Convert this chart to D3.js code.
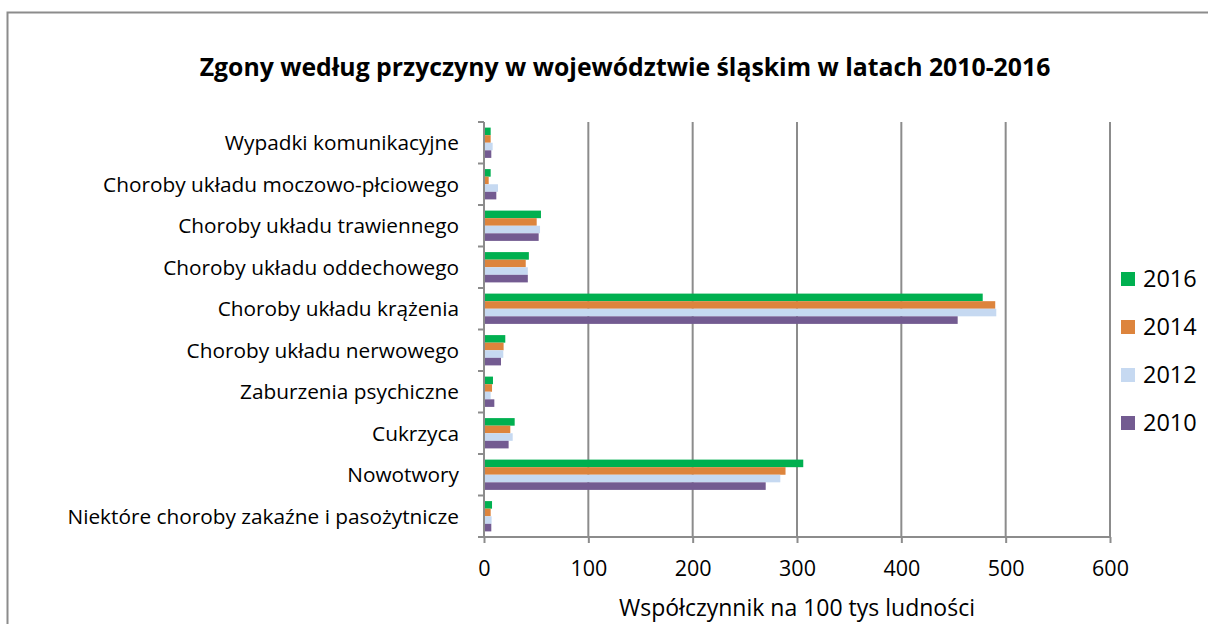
<!DOCTYPE html>
<html lang="pl">
<head>
<meta charset="utf-8">
<script src="https://cdn.jsdelivr.net/npm/d3@7"></script>
<style>
  html, body { margin: 0; padding: 0; background: #fff; }
  svg { display: block; font-family: "Open Sans", "Noto Sans", sans-serif; }
</style>
</head>
<body>
<svg id="chart" width="1208" height="624"></svg>
<script>
// Kategorie przyczyn zgonów (od dołu wykresu do góry)
const categories = [
  "Niektóre choroby zakaźne i pasożytnicze",
  "Nowotwory",
  "Cukrzyca",
  "Zaburzenia psychiczne",
  "Choroby układu nerwowego",
  "Choroby układu krążenia",
  "Choroby układu oddechowego",
  "Choroby układu trawiennego",
  "Choroby układu moczowo-płciowego",
  "Wypadki komunikacyjne"
];

// Współczynnik zgonów na 100 tys. ludności, w kolejności kategorii
const years = ["2016", "2014", "2012", "2010"];
const values2016 = [7.7, 306, 29.4, 8.6, 20.4, 478, 43, 54.6, 6.4, 6.4];
const values2014 = [6.4, 289, 25.2, 7.7, 18.8, 490, 40, 50.5, 4.5, 6.4];
const values2012 = [7.3, 284, 27.5, 6.4, 18.5, 491, 42, 53.7, 13.4, 8.3];
const values2010 = [7.0, 270, 23.6, 9.9, 16.3, 454, 42, 52.4, 11.8, 7.0];
const seriesValues = [values2016, values2014, values2012, values2010];
const colors = ["#00b050", "#dd843c", "#c6d9f1", "#735b91"];

const xTicks = [0, 100, 200, 300, 400, 500, 600];

const svg = d3.select("#chart");
const W = 1208, H = 624;
const plot = { left: 484, right: 1110, top: 122, bottom: 537 };

// Ramka obszaru wykresu
svg.append("path")
  .attr("d", `M7.5,${H + 2} V12.5 H${W + 2}`)
  .attr("fill", "none")
  .attr("stroke", "#8c8c8c")
  .attr("stroke-width", 2);

// Tytuł
svg.append("text")
  .attr("x", 625)
  .attr("y", 76)
  .attr("text-anchor", "middle")
  .attr("font-weight", "bold")
  .attr("font-size", 24.8)
  .attr("fill", "#000")
  .text("Zgony według przyczyny w województwie śląskim w latach 2010-2016");

const x = d3.scaleLinear().domain([0, 600]).range([plot.left, plot.right]);

// Kategorie rysowane od dołu: pierwsza kategoria na samym dole
const y = d3.scaleBand()
  .domain(categories.slice().reverse())
  .range([plot.top, plot.bottom])
  .paddingInner(0.27)
  .paddingOuter(0.135);

const ySub = d3.scaleBand()
  .domain(years)
  .range([0, y.bandwidth()]);

// Linie siatki pionowej
svg.append("g")
  .selectAll("line")
  .data(xTicks.slice(1))
  .join("line")
  .attr("x1", d => x(d)).attr("x2", d => x(d))
  .attr("y1", plot.top).attr("y2", plot.bottom)
  .attr("stroke", "#8c8c8c")
  .attr("stroke-width", 2);

// Słupki
const groups = svg.append("g")
  .selectAll("g")
  .data(categories.map((c, i) => ({ c, i })))
  .join("g")
  .attr("transform", d => `translate(0,${y(d.c)})`);

groups.selectAll("rect")
  .data(d => years.map((yr, s) => ({ yr, s, v: seriesValues[s][d.i] })))
  .join("rect")
  .attr("x", x(0))
  .attr("y", d => ySub(d.yr))
  .attr("width", d => x(d.v) - x(0))
  .attr("height", ySub.bandwidth())
  .attr("fill", d => colors[d.s]);

// Oś wartości (dolna)
const xAxis = svg.append("g")
  .attr("transform", `translate(0,${plot.bottom})`)
  .call(d3.axisBottom(x).tickValues(xTicks).tickSize(6).tickPadding(18).tickFormat(d3.format("d")));
xAxis.select(".domain").attr("stroke", "#8c8c8c").attr("stroke-width", 2)
  .attr("d", `M${x(0) - 1},0H${x(600) + 1}`);
xAxis.selectAll(".tick line").attr("stroke", "#8c8c8c").attr("stroke-width", 2);
xAxis.selectAll(".tick text")
  .attr("font-size", 21.5)
  .attr("font-family", "'Open Sans', 'Noto Sans', sans-serif")
  .attr("fill", "#000");

// Oś kategorii (lewa)
const yEdges = d3.range(categories.length + 1)
  .map(i => plot.top + i * (plot.bottom - plot.top) / categories.length);
const yAxis = svg.append("g");
yAxis.append("line")
  .attr("x1", plot.left).attr("x2", plot.left)
  .attr("y1", plot.top).attr("y2", plot.bottom + 1)
  .attr("stroke", "#8c8c8c").attr("stroke-width", 2);
yAxis.selectAll("line.tick")
  .data(yEdges)
  .join("line")
  .attr("class", "tick")
  .attr("x1", plot.left - 6).attr("x2", plot.left)
  .attr("y1", d => d).attr("y2", d => d)
  .attr("stroke", "#8c8c8c").attr("stroke-width", 2);
yAxis.selectAll("text")
  .data(categories)
  .join("text")
  .attr("x", 459)
  .attr("y", d => y(d) + y.bandwidth() / 2)
  .attr("dy", "0.35em")
  .attr("text-anchor", "end")
  .attr("font-size", 20.8)
  .attr("fill", "#000")
  .text(d => d);

// Tytuł osi wartości
svg.append("text")
  .attr("x", 797)
  .attr("y", 616)
  .attr("text-anchor", "middle")
  .attr("font-size", 23)
  .attr("fill", "#000")
  .text("Współczynnik na 100 tys ludności");

// Legenda
const legend = svg.append("g")
  .selectAll("g")
  .data(years)
  .join("g")
  .attr("transform", (d, i) => `translate(1121,${279 + i * 48})`);
legend.append("rect")
  .attr("x", 0).attr("y", -7)
  .attr("width", 14).attr("height", 14)
  .attr("fill", (d, i) => colors[i]);
legend.append("text")
  .attr("x", 22)
  .attr("y", 0)
  .attr("dy", "0.35em")
  .attr("font-size", 23.5)
  .attr("fill", "#000")
  .text(d => d);
</script>
</body>
</html>
